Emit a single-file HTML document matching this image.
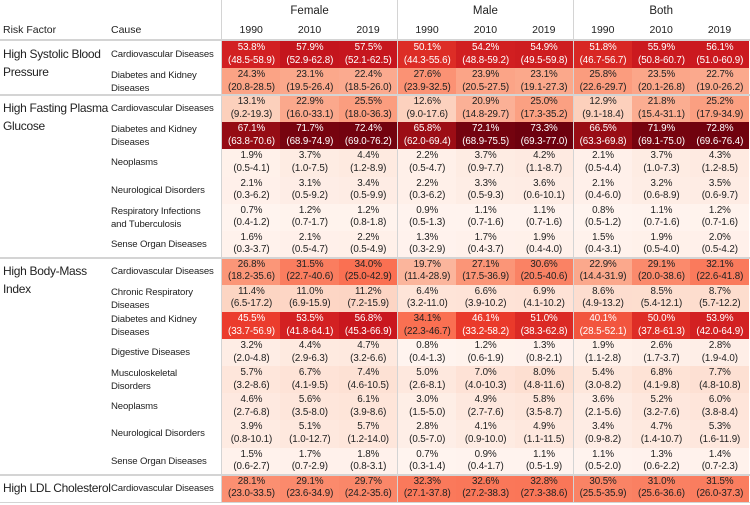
<!DOCTYPE html>
<html><head><meta charset="utf-8"><style>
body{margin:0;width:750px;height:505px;background:#fff;font-family:"Liberation Sans",sans-serif;color:#222;overflow:hidden}
#root{position:relative;width:750px;height:505px}
.t{position:absolute;font-size:10.5px;white-space:nowrap}
.cell{position:absolute;text-align:center;font-size:9.8px;line-height:12.5px;box-sizing:border-box;padding-top:1px;letter-spacing:-0.1px}
.hl{position:absolute;background:#d4d4d4}
</style></head><body><div id="root"></div>
<script>
const groups=["Female","Male","Both"];
const years=["1990","2010","2019"];
const riskFactors=[["High Systolic Blood","Pressure"],["High Fasting Plasma","Glucose"],["High Body-Mass","Index"],["High LDL Cholesterol"]];
const rfRows=[2,6,8,1];
const causes=[["Cardiovascular Diseases"],["Diabetes and Kidney","Diseases"],["Cardiovascular Diseases"],["Diabetes and Kidney","Diseases"],["Neoplasms"],["Neurological Disorders"],["Respiratory Infections","and Tuberculosis"],["Sense Organ Diseases"],["Cardiovascular Diseases"],["Chronic Respiratory","Diseases"],["Diabetes and Kidney","Diseases"],["Digestive Diseases"],["Musculoskeletal","Disorders"],["Neoplasms"],["Neurological Disorders"],["Sense Organ Diseases"],["Cardiovascular Diseases"]];
const values=[
[53.8,57.9,57.5,50.1,54.2,54.9,51.8,55.9,56.1],
[24.3,23.1,22.4,27.6,23.9,23.1,25.8,23.5,22.7],
[13.1,22.9,25.5,12.6,20.9,25.0,12.9,21.8,25.2],
[67.1,71.7,72.4,65.8,72.1,73.3,66.5,71.9,72.8],
[1.9,3.7,4.4,2.2,3.7,4.2,2.1,3.7,4.3],
[2.1,3.1,3.4,2.2,3.3,3.6,2.1,3.2,3.5],
[0.7,1.2,1.2,0.9,1.1,1.1,0.8,1.1,1.2],
[1.6,2.1,2.2,1.3,1.7,1.9,1.5,1.9,2.0],
[26.8,31.5,34.0,19.7,27.1,30.6,22.9,29.1,32.1],
[11.4,11.0,11.2,6.4,6.6,6.9,8.6,8.5,8.7],
[45.5,53.5,56.8,34.1,46.1,51.0,40.1,50.0,53.9],
[3.2,4.4,4.7,0.8,1.2,1.3,1.9,2.6,2.8],
[5.7,6.7,7.4,5.0,7.0,8.0,5.4,6.8,7.7],
[4.6,5.6,6.1,3.0,4.9,5.8,3.6,5.2,6.0],
[3.9,5.1,5.7,2.8,4.1,4.9,3.4,4.7,5.3],
[1.5,1.7,1.8,0.7,0.9,1.1,1.1,1.3,1.4],
[28.1,29.1,29.7,32.3,32.6,32.8,30.5,31.0,31.5]];
const intervals=[
["48.5-58.9","52.9-62.8","52.1-62.5","44.3-55.6","48.8-59.2","49.5-59.8","46.7-56.7","50.8-60.7","51.0-60.9"],
["20.8-28.5","19.5-26.4","18.5-26.0","23.9-32.5","20.5-27.5","19.1-27.3","22.6-29.7","20.1-26.8","19.0-26.2"],
["9.2-19.3","16.0-33.1","18.0-36.3","9.0-17.6","14.8-29.7","17.3-35.2","9.1-18.4","15.4-31.1","17.9-34.9"],
["63.8-70.6","68.9-74.9","69.0-76.2","62.0-69.4","68.9-75.5","69.3-77.0","63.3-69.8","69.1-75.0","69.6-76.4"],
["0.5-4.1","1.0-7.5","1.2-8.9","0.5-4.7","0.9-7.7","1.1-8.7","0.5-4.4","1.0-7.3","1.2-8.5"],
["0.3-6.2","0.5-9.2","0.5-9.9","0.3-6.2","0.5-9.3","0.6-10.1","0.4-6.0","0.6-8.9","0.6-9.7"],
["0.4-1.2","0.7-1.7","0.8-1.8","0.5-1.3","0.7-1.6","0.7-1.6","0.5-1.2","0.7-1.6","0.7-1.6"],
["0.3-3.7","0.5-4.7","0.5-4.9","0.3-2.9","0.4-3.7","0.4-4.0","0.4-3.1","0.5-4.0","0.5-4.2"],
["18.2-35.6","22.7-40.6","25.0-42.9","11.4-28.9","17.5-36.9","20.5-40.6","14.4-31.9","20.0-38.6","22.6-41.8"],
["6.5-17.2","6.9-15.9","7.2-15.9","3.2-11.0","3.9-10.2","4.1-10.2","4.9-13.2","5.4-12.1","5.7-12.2"],
["33.7-56.9","41.8-64.1","45.3-66.9","22.3-46.7","33.2-58.2","38.3-62.8","28.5-52.1","37.8-61.3","42.0-64.9"],
["2.0-4.8","2.9-6.3","3.2-6.6","0.4-1.3","0.6-1.9","0.8-2.1","1.1-2.8","1.7-3.7","1.9-4.0"],
["3.2-8.6","4.1-9.5","4.6-10.5","2.6-8.1","4.0-10.3","4.8-11.6","3.0-8.2","4.1-9.8","4.8-10.8"],
["2.7-6.8","3.5-8.0","3.9-8.6","1.5-5.0","2.7-7.6","3.5-8.7","2.1-5.6","3.2-7.6","3.8-8.4"],
["0.8-10.1","1.0-12.7","1.2-14.0","0.5-7.0","0.9-10.0","1.1-11.5","0.9-8.2","1.4-10.7","1.6-11.9"],
["0.6-2.7","0.7-2.9","0.8-3.1","0.3-1.4","0.4-1.7","0.5-1.9","0.5-2.0","0.6-2.2","0.7-2.3"],
["23.0-33.5","23.6-34.9","24.2-35.6","27.1-37.8","27.2-38.3","27.3-38.6","25.5-35.9","25.6-36.6","26.0-37.3"]];
const root=document.getElementById('root');
const X0=222,CW=58.4,Y0=41,RH=27.1;
const stops=[[0,[255,246,242]],[5,[254,232,222]],[13,[252,208,188]],[25,[251,160,130]],[34,[250,112,82]],[46,[234,58,43]],[57,[200,22,30]],[67,[150,12,20]],[74,[104,0,13]]];
function color(v){for(let i=1;i<stops.length;i++){if(v<=stops[i][0]){const a=stops[i-1],b=stops[i],t=(v-a[0])/(b[0]-a[0]);return 'rgb('+a[1].map((c,k)=>Math.round(c+(b[1][k]-c)*t)).join(',')+')';}}return 'rgb(104,0,13)';}
function colX(c){return X0+c*CW+Math.floor(c/3)*0.6;}
function mk(cls,css,html){const d=document.createElement('div');d.className=cls;d.style.cssText=css;d.innerHTML=html;root.appendChild(d);return d;}
let e;
e=mk('t','left:3px;top:24px','Risk Factor');


e=mk('t','left:111px;top:24px','Cause');


groups.forEach((g,gi)=>{
 e=mk('t','left:'+colX(gi*3)+'px;width:'+(CW*3)+'px;text-align:center;top:5px;font-size:11.5px',g);
 
 
 years.forEach((y,yi)=>{
  e=mk('t','left:'+colX(gi*3+yi)+'px;width:'+CW+'px;text-align:center;top:24px',y);
  
  
 });
});
e=mk('hl','left:0;top:'+(Y0-2)+'px;width:750px;height:2px','');


values.forEach((row,r)=>{
 const y=Y0+r*RH;
 e=mk('t','left:111px;top:'+(causes[r].length>1?y+1:y+7)+'px;line-height:13px;font-size:9.6px;letter-spacing:-0.15px',causes[r].join('<br>'));
 
 
 row.forEach((v,c)=>{
  e=mk('cell','left:'+colX(c)+'px;top:'+y+'px;width:'+(CW+0.5)+'px;height:'+(RH+0.5)+'px;background:'+color(v)+';color:'+(v>=38?'#fff':'#222'),v.toFixed(1)+'%<br>('+intervals[r][c]+')');
  
  
 });
});
let r0=0;
riskFactors.forEach((rf,i)=>{
 const y=Y0+r0*RH;
 e=mk('t','left:3px;top:'+(y+4)+'px;font-size:12px;line-height:18px;letter-spacing:-0.3px',rf.join('<br>'));
 
 
 if(i>0){e=mk('hl','left:0;top:'+(y-1)+'px;width:750px;height:2px','');
 
 }
 r0+=rfRows[i];
});
[colX(0)-1,colX(3)-0.6,colX(6)-0.6].forEach(x=>{
 e=mk('hl','left:'+x+'px;top:0;width:1px;height:'+(Y0+17*RH)+'px','');
 
 
});
e=mk('hl','left:0;top:'+(Y0+17*RH)+'px;width:750px;height:1px','');


</script></body></html>
